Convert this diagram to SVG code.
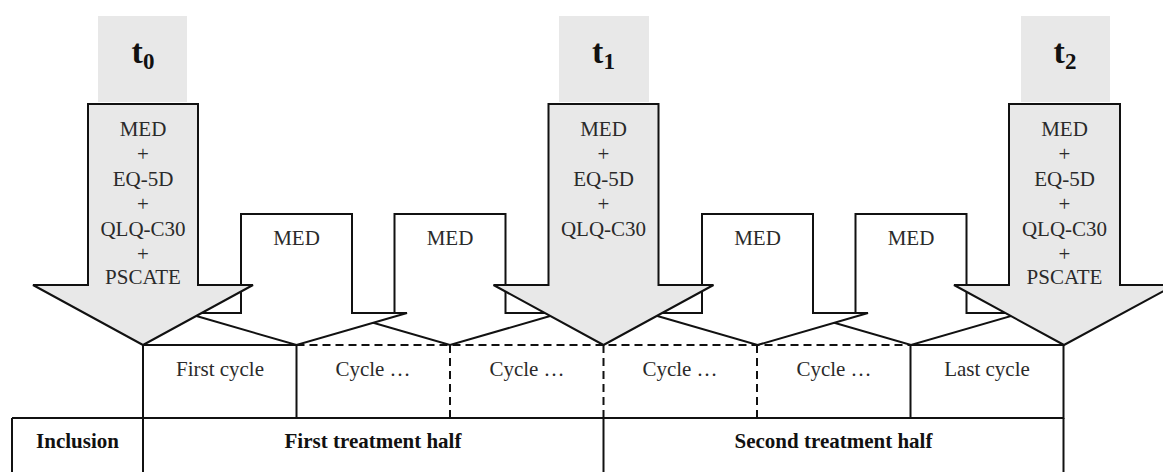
<svg xmlns="http://www.w3.org/2000/svg" width="1163" height="472" viewBox="0 0 1163 472">
  <style>
    .line { fill: none; stroke: #111; stroke-width: 2; }
    .dash { fill: none; stroke: #111; stroke-width: 2; stroke-dasharray: 8 5; }
    .med { fill: #fff; stroke: #111; stroke-width: 2; stroke-linejoin: miter; }
    .big { fill: #e8e8e8; stroke: #111; stroke-width: 2; stroke-linejoin: miter; }
    .tag { fill: #e8e8e8; stroke: none; }
    .txt { font-family: "Liberation Serif", "Times New Roman", serif; font-size: 21px; fill: #2a2a2a; text-anchor: middle; }
    .bold { font-family: "Liberation Serif", "Times New Roman", serif; font-size: 21px; font-weight: bold; fill: #111; text-anchor: middle; }
    .time { font-family: "Liberation Serif", "Times New Roman", serif; font-size: 34px; font-weight: bold; fill: #111; text-anchor: middle; }
  </style>

  <rect width="1163" height="472" fill="#fff"/>

  <!-- treatment phases bar -->
  <g id="phases">
    <line class="line" x1="12" y1="418" x2="1063.5" y2="418"/>
    <line class="line" x1="12" y1="418" x2="12" y2="480"/>
    <line class="line" x1="143" y1="418" x2="143" y2="480"/>
    <line class="line" x1="603.5" y1="418" x2="603.5" y2="480"/>
    <line class="line" x1="1063.5" y1="418" x2="1063.5" y2="480"/>
    <text class="bold" x="77.5" y="448">Inclusion</text>
    <text class="bold" x="373" y="448">First treatment half</text>
    <text class="bold" x="833.5" y="448">Second treatment half</text>
  </g>

  <!-- treatment cycles -->
  <g id="cycles">
    <rect class="line" x="143" y="345" width="153.5" height="73"/>
    <rect class="line" x="910.5" y="345" width="153" height="73"/>
    <line class="dash" x1="296.5" y1="345" x2="910.5" y2="345"/>
    <line class="dash" x1="450" y1="345" x2="450" y2="418"/>
    <line class="dash" x1="603.5" y1="345" x2="603.5" y2="418"/>
    <line class="dash" x1="757" y1="345" x2="757" y2="418"/>
    <text class="txt" x="220" y="376">First cycle</text>
    <text class="txt" x="373" y="376">Cycle …</text>
    <text class="txt" x="527" y="376">Cycle …</text>
    <text class="txt" x="680" y="376">Cycle …</text>
    <text class="txt" x="834" y="376">Cycle …</text>
    <text class="txt" x="987" y="376">Last cycle</text>
  </g>

  <!-- MED-only assessments between the time points -->
  <g id="med2">
    <polygon class="med" points="394.5,214 505.5,214 505.5,313 560.5,313 450,345 339.5,313 394.5,313"/>
    <text class="txt" x="450" y="245">MED</text>
  </g>
  <g id="med1">
    <polygon class="med" points="241,214 352,214 352,313 407,313 296.5,345 186,313 241,313"/>
    <text class="txt" x="296.5" y="245">MED</text>
  </g>
  <g id="med4">
    <polygon class="med" points="855.5,214 966.5,214 966.5,313 1021.5,313 911,345 800.5,313 855.5,313"/>
    <text class="txt" x="911" y="245">MED</text>
  </g>
  <g id="med3">
    <polygon class="med" points="702,214 813,214 813,313 868,313 757.5,345 647,313 702,313"/>
    <text class="txt" x="757.5" y="245">MED</text>
  </g>

  <!-- t0: baseline -->
  <g id="t0">
    <rect class="tag" x="98" y="16" width="89" height="86"/>
    <text class="time" x="143" y="63">t<tspan font-size="23" dy="6">0</tspan></text>
    <polygon class="big" points="88,104 198,104 198,285 253,285 143,345 33,285 88,285"/>
    <text class="txt" x="143" y="136">MED</text>
    <text class="txt" x="143" y="161">+</text>
    <text class="txt" x="143" y="186">EQ-5D</text>
    <text class="txt" x="143" y="211">+</text>
    <text class="txt" x="143" y="236">QLQ-C30</text>
    <text class="txt" x="143" y="261">+</text>
    <text class="txt" x="143" y="284">PSCATE</text>
  </g>

  <!-- t1: mid-treatment -->
  <g id="t1">
    <rect class="tag" x="559" y="16" width="90" height="86"/>
    <text class="time" x="603.5" y="63">t<tspan font-size="23" dy="6">1</tspan></text>
    <polygon class="big" points="548.5,104 658.5,104 658.5,285 713.5,285 603.5,345 493.5,285 548.5,285"/>
    <text class="txt" x="603.5" y="136">MED</text>
    <text class="txt" x="603.5" y="161">+</text>
    <text class="txt" x="603.5" y="186">EQ-5D</text>
    <text class="txt" x="603.5" y="211">+</text>
    <text class="txt" x="603.5" y="236">QLQ-C30</text>
  </g>

  <!-- t2: end of treatment -->
  <g id="t2">
    <rect class="tag" x="1021" y="16" width="89" height="86"/>
    <text class="time" x="1065" y="63">t<tspan font-size="23" dy="6">2</tspan></text>
    <polygon class="big" points="1009,104 1120,104 1120,285 1175,285 1064,345 954,285 1009,285"/>
    <text class="txt" x="1064.5" y="136">MED</text>
    <text class="txt" x="1064.5" y="161">+</text>
    <text class="txt" x="1064.5" y="186">EQ-5D</text>
    <text class="txt" x="1064.5" y="211">+</text>
    <text class="txt" x="1064.5" y="236">QLQ-C30</text>
    <text class="txt" x="1064.5" y="261">+</text>
    <text class="txt" x="1064.5" y="284">PSCATE</text>
  </g>
</svg>
